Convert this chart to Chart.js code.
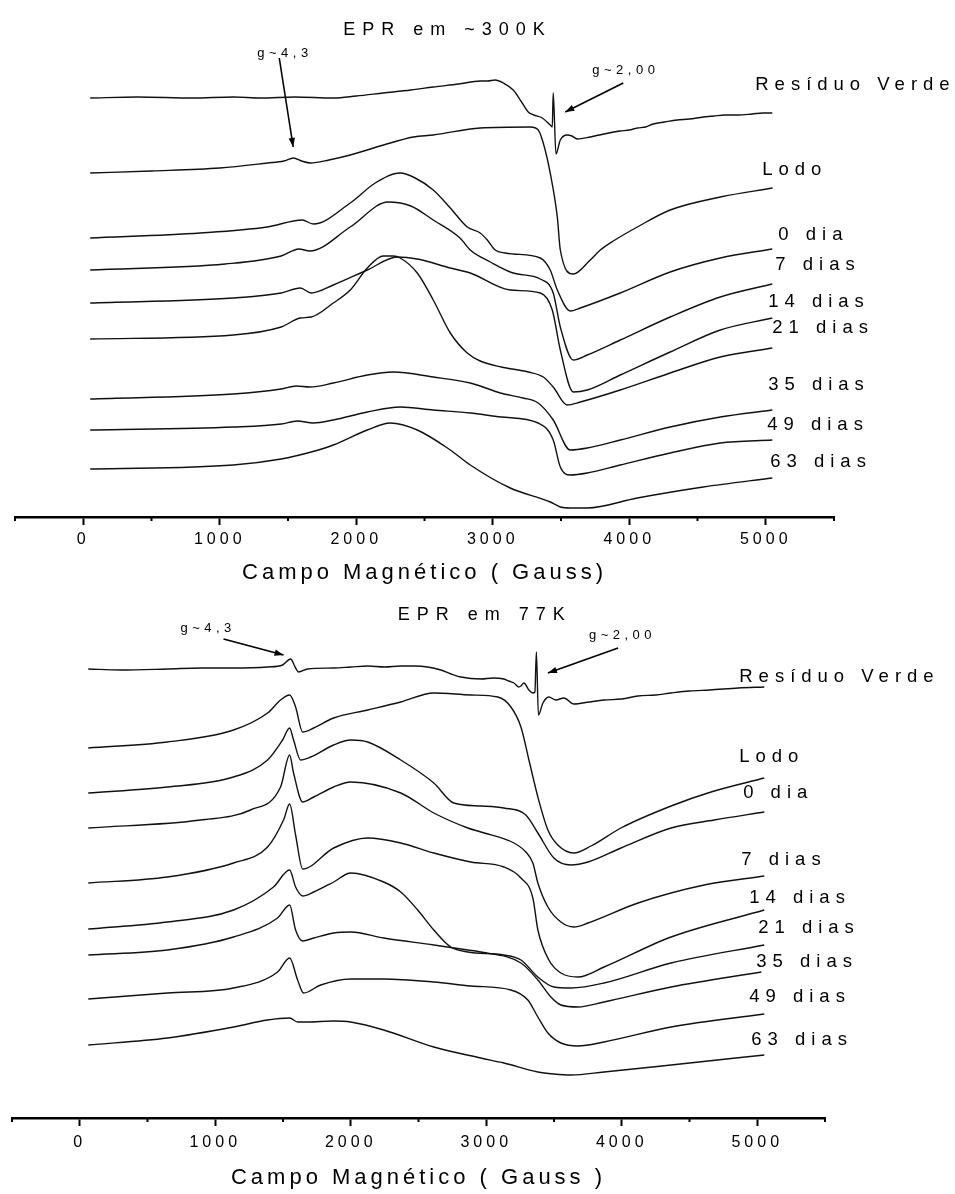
<!DOCTYPE html>
<html lang="pt">
<head>
<meta charset="utf-8">
<title>EPR – Resíduo Verde, Lodo e compostagem</title>
<script src="https://cdn.jsdelivr.net/npm/chart.js@4.4.1/dist/chart.umd.min.js"></script>
<style>
  html, body { margin: 0; padding: 0; background: #fff; }
  #wrap { position: relative; width: 955px; height: 1194px; }
  .panel { position: absolute; left: 0; width: 955px; }
  #p300 { top: 0; height: 590px; }
  #p77 { top: 590px; height: 604px; }
  canvas { display: block; }
</style>
</head>
<body>
<div id="wrap">
  <div class="panel" id="p300"><canvas id="c300" width="955" height="590"></canvas></div>
  <div class="panel" id="p77"><canvas id="c77" width="955" height="604"></canvas></div>
</div>
<script>
// Samples, same order in both panels (top spectrum first)
const sampleNames = ['Resíduo Verde', 'Lodo', '0 dia', '7 dias', '14 dias', '21 dias', '35 dias', '49 dias', '63 dias'];

// Labelled field values on the x axis (Gauss)
const fieldTicks = [0, 1000, 2000, 3000, 4000, 5000];

// ---------- EPR em ~300K : field (G) and first-derivative signal (a.u.) ----------
const field300_RV = [51, 400, 800, 1100, 1300, 1550, 1832, 2000, 2198, 2400, 2564, 2750, 2908, 2960, 3018, 3077, 3150, 3216, 3260, 3300, 3363, 3421, 3436, 3443, 3463, 3495, 3546, 3580, 3619, 3714, 3780, 3850, 3934, 4000, 4060, 4120, 4176, 4260, 4350, 4440, 4542, 4620, 4700, 4791, 4900, 4980, 5048];
const signal300_RV = [0, 1, 0, 1, 0, 1, 0, 2, 5, 8, 11, 14, 17, 17, 18, 15, 8, -5, -14, -17, -20, -27, -29, 5, -56, -42, -37, -38, -41, -39, -37, -35, -33, -32, -30, -29, -26, -24, -22, -21, -19, -18, -17, -17, -16, -15, -15];

const field300_Lodo = [51, 500, 1000, 1350, 1470, 1540, 1600, 1665, 1800, 1956, 2200, 2418, 2564, 2908, 3275, 3333, 3370, 3421, 3473, 3495, 3590, 3714, 3788, 3883, 4059, 4300, 4667, 5050];
const signal300_Lodo = [0, 2, 5, 10, 12, 15, 12, 10, 13, 18, 28, 36, 38, 45, 46, 43, 30, 0, -44, -77, -101, -87, -77, -68, -54, -37, -24, -15];

const field300_d0 = [51, 857, 1348, 1604, 1685, 1956, 2139, 2322, 2432, 2564, 2689, 2813, 2908, 2960, 3018, 3090, 3150, 3348, 3421, 3473, 3568, 3641, 3934, 4300, 4667, 5048];
const signal300_d0 = [0, 5, 11, 18, 14, 35, 55, 65, 60, 48, 30, 11, 5, -2, -12, -15, -16, -20, -32, -52, -73, -70, -55, -34, -20, -11];

const field300_d7 = [51, 1040, 1450, 1580, 1660, 1956, 2234, 2400, 2564, 2760, 2835, 2982, 3150, 3348, 3443, 3495, 3590, 3692, 3934, 4300, 4667, 5048];
const signal300_d7 = [0, 6, 14, 21, 19, 43, 68, 64, 50, 32, 20, 8, -3, -9, -23, -57, -90, -85, -70, -47, -27, -14];

const field300_d14 = [51, 1099, 1450, 1590, 1670, 1832, 2081, 2300, 2447, 2689, 2835, 3128, 3348, 3436, 3495, 3590, 3692, 3934, 4300, 4667, 5048];
const signal300_d14 = [0, 5, 10, 15, 10, 18, 33, 46, 44, 35, 30, 13, 10, -7, -47, -89, -87, -72, -49, -27, -15];

const field300_d21 = [51, 1099, 1450, 1590, 1670, 1832, 1956, 2081, 2198, 2271, 2322, 2447, 2564, 2689, 2813, 2908, 3062, 3260, 3370, 3443, 3546, 3641, 3934, 4300, 4667, 5048];
const signal300_d21 = [0, 4, 12, 21, 22, 36, 49, 71, 83, 83, 81, 66, 39, 6, -14, -22, -28, -33, -38, -48, -66, -63, -51, -34, -18, -9];

const field300_d35 = [51, 1099, 1450, 1560, 1660, 1832, 2081, 2271, 2564, 2835, 2908, 3055, 3223, 3333, 3443, 3568, 3692, 3934, 4300, 4667, 5048];
const signal300_d35 = [0, 5, 10, 13, 12, 16, 24, 27, 22, 16, 13, 6, 1, -4, -21, -51, -49, -41, -28, -18, -11];

const field300_d49 = [51, 1099, 1450, 1568, 1685, 1832, 2081, 2322, 2564, 2835, 3062, 3333, 3443, 3495, 3568, 3692, 3934, 4300, 4667, 5048];
const signal300_d49 = [0, 3, 6, 9, 7, 10, 18, 23, 20, 17, 13, 7, -10, -37, -45, -43, -35, -23, -13, -10];

const field300_d63 = [51, 1099, 1450, 1670, 1832, 2081, 2249, 2447, 2689, 2835, 3128, 3421, 3495, 3568, 3692, 4059, 4542, 5048];
const signal300_d63 = [0, 4, 10, 17, 24, 39, 46, 39, 19, 4, -19, -33, -38, -39, -39, -29, -18, -9];

// vertical stacking offset of each spectrum (a.u.)
const offset300 = [419, 344, 279, 247, 214, 178, 118, 87, 48];

// ---------- EPR em 77K ----------
const field77_RV = [63, 300, 647, 900, 1135, 1386, 1497, 1556, 1593, 1615, 1681, 1874, 2000, 2125, 2250, 2369, 2470, 2568, 2664, 2740, 2812, 2960, 3050, 3130, 3167, 3204, 3240, 3256, 3278, 3315, 3344, 3359, 3370, 3385, 3418, 3462, 3514, 3573, 3647, 3760, 3869, 4000, 4120, 4250, 4364, 4500, 4650, 4860, 5052];
const signal77_RV = [0, -1, 0, 1, 1, 2, 4, 10, 1, -3, 0, 1, 2, 3, 2, 3, 3, 2, -1, -5, -8, -10, -9, -10, -12, -14, -18, -17, -14, -21, -24, -23, 17, -46, -34, -28, -31, -29, -35, -33, -31, -30, -27, -26, -24, -22, -21, -19, -18];

const field77_Lodo = [63, 647, 1135, 1386, 1482, 1549, 1593, 1645, 1727, 1874, 2125, 2369, 2613, 2886, 3086, 3182, 3256, 3315, 3381, 3455, 3528, 3647, 3773, 3994, 4364, 4659, 5052];
const signal77_Lodo = [0, 6, 18, 35, 48, 53, 41, 16, 20, 30, 38, 46, 55, 53, 51, 41, 21, -12, -49, -82, -97, -105, -98, -80, -58, -44, -30];

const field77_d0 = [63, 647, 1135, 1386, 1497, 1549, 1578, 1630, 1704, 1874, 2000, 2125, 2369, 2613, 2760, 2960, 3130, 3292, 3381, 3499, 3625, 3751, 3994, 4364, 4682, 5052];
const signal77_d0 = [0, 6, 16, 33, 53, 65, 53, 33, 36, 48, 53, 51, 33, 10, -10, -13, -15, -22, -40, -65, -72, -69, -55, -35, -27, -19];

const field77_d7 = [63, 891, 1260, 1482, 1549, 1578, 1645, 1727, 1874, 2000, 2369, 2613, 2864, 2960, 3204, 3292, 3344, 3381, 3455, 3551, 3647, 3751, 4120, 4608, 5052];
const signal77_d7 = [0, 8, 18, 41, 73, 55, 26, 31, 41, 46, 35, 15, 0, -4, -15, -24, -35, -55, -79, -94, -99, -95, -75, -57, -48];

const field77_d14 = [63, 647, 1135, 1386, 1504, 1549, 1593, 1645, 1874, 2125, 2369, 2613, 2886, 3130, 3256, 3344, 3381, 3462, 3551, 3677, 3869, 4364, 5052];
const signal77_d14 = [0, 6, 20, 36, 63, 79, 48, 14, 35, 45, 40, 30, 21, 16, 5, -15, -47, -77, -90, -94, -84, -54, -27];

const field77_d21 = [63, 647, 1135, 1430, 1549, 1593, 1645, 1727, 1874, 2000, 2243, 2369, 2494, 2613, 2738, 2864, 3130, 3256, 3381, 3499, 3625, 3869, 4364, 5052];
const signal77_d21 = [0, 7, 19, 42, 59, 42, 33, 37, 47, 56, 47, 37, 19, -1, -18, -23, -26, -31, -48, -58, -59, -54, -34, -16];

const field77_d35 = [63, 647, 1135, 1460, 1549, 1593, 1645, 1727, 1874, 2000, 2243, 2613, 2864, 2960, 3256, 3381, 3477, 3551, 3677, 3869, 4364, 5030];
const signal77_d35 = [0, 5, 18, 37, 50, 25, 14, 17, 22, 23, 17, 10, 5, 3, -8, -25, -42, -50, -52, -47, -32, -17];

const field77_d49 = [63, 647, 1135, 1460, 1549, 1608, 1652, 1778, 2000, 2243, 2613, 2886, 3182, 3307, 3381, 3455, 3551, 3677, 3869, 4364, 5052];
const signal77_d49 = [0, 6, 11, 27, 41, 19, 6, 14, 20, 20, 17, 13, 9, -1, -18, -34, -44, -47, -43, -28, -15];

const field77_d63 = [63, 647, 1135, 1386, 1549, 1608, 1681, 1874, 2000, 2243, 2613, 2960, 3130, 3381, 3499, 3625, 3869, 4364, 5052];
const signal77_d63 = [0, 7, 18, 25, 27, 23, 23, 24, 23, 15, -2, -13, -18, -27, -29, -30, -27, -20, -10];

const offset77 = [449, 370, 325, 290, 235, 189, 163, 119, 73];

// ---------- drawing ----------
const FONT = '"Liberation Sans", Arial, Helvetica, sans-serif';

const spectra300 = [
  [field300_RV, signal300_RV], [field300_Lodo, signal300_Lodo], [field300_d0, signal300_d0],
  [field300_d7, signal300_d7], [field300_d14, signal300_d14], [field300_d21, signal300_d21],
  [field300_d35, signal300_d35], [field300_d49, signal300_d49], [field300_d63, signal300_d63]
];
const spectra77 = [
  [field77_RV, signal77_RV], [field77_Lodo, signal77_Lodo], [field77_d0, signal77_d0],
  [field77_d7, signal77_d7], [field77_d14, signal77_d14], [field77_d21, signal77_d21],
  [field77_d35, signal77_d35], [field77_d49, signal77_d49], [field77_d63, signal77_d63]
];

function makeDatasets(spectra, offsets) {
  return spectra.map(([fields, signal], i) => ({
    label: sampleNames[i],
    data: fields.map((f, k) => ({ x: f, y: offsets[i] + signal[k] })),
    borderColor: '#111',
    borderWidth: 1.4,
    pointRadius: 0,
    fill: false,
    cubicInterpolationMode: 'monotone'
  }));
}

function drawArrow(ctx, x1, y1, x2, y2) {
  ctx.beginPath();
  ctx.moveTo(x1, y1);
  ctx.lineTo(x2, y2);
  ctx.stroke();
  const a = Math.atan2(y2 - y1, x2 - x1), L = 9, W = 3.2;
  ctx.beginPath();
  ctx.moveTo(x2, y2);
  ctx.lineTo(x2 - L * Math.cos(a) + W * Math.sin(a), y2 - L * Math.sin(a) - W * Math.cos(a));
  ctx.lineTo(x2 - L * Math.cos(a) - W * Math.sin(a), y2 - L * Math.sin(a) + W * Math.cos(a));
  ctx.closePath();
  ctx.fill();
}

// Panel title, g-value notes, sample names and minor ticks, placed in data units
const eprDecor = {
  id: 'eprDecor',
  beforeDraw(chart) {
    chart.ctx.letterSpacing = '4px';
  },
  beforeDatasetsDraw(chart) {
    chart.ctx.letterSpacing = '0px';
  },
  afterDraw(chart, args, opts) {
    const { ctx } = chart;
    const xs = chart.scales.x, ys = chart.scales.y;
    const X = v => xs.getPixelForValue(v);
    const Y = v => ys.getPixelForValue(v);
    ctx.save();
    ctx.fillStyle = '#000';
    ctx.strokeStyle = '#000';

    // minor ticks every 500 G
    ctx.lineWidth = 2;
    xs.ticks.forEach(t => {
      if (fieldTicks.includes(t.value)) return;
      const px = X(t.value);
      ctx.beginPath();
      ctx.moveTo(px, xs.top);
      ctx.lineTo(px, xs.top + 4);
      ctx.stroke();
    });

    ctx.textAlign = 'left';
    ctx.textBaseline = 'middle';

    // panel title
    ctx.letterSpacing = '7px';
    ctx.font = '18px ' + FONT;
    ctx.fillText(opts.title, X(opts.titleAt[0]), Y(opts.titleAt[1]));

    // g-value notes with arrows
    ctx.letterSpacing = '4.5px';
    ctx.font = '13px ' + FONT;
    ctx.lineWidth = 1.6;
    opts.notes.forEach(n => {
      ctx.fillText(n.text, X(n.at[0]), Y(n.at[1]));
      drawArrow(ctx, X(n.from[0]), Y(n.from[1]), X(n.to[0]), Y(n.to[1]));
    });

    // sample names at the right end of each spectrum
    ctx.letterSpacing = '6px';
    ctx.font = '18.5px ' + FONT;
    sampleNames.forEach((name, i) => {
      const p = opts.namesAt[i];
      ctx.fillText(name, X(p[0]), Y(p[1]));
    });
    ctx.restore();
  }
};

function buildChart(canvasId, spectra, offsets, cfg) {
  return new Chart(document.getElementById(canvasId), {
    type: 'line',
    data: { datasets: makeDatasets(spectra, offsets) },
    plugins: [eprDecor],
    options: {
      responsive: false,
      animation: false,
      devicePixelRatio: 1,
      layout: { padding: cfg.padding },
      plugins: {
        legend: { display: false },
        tooltip: { enabled: false },
        eprDecor: cfg.decor
      },
      scales: {
        x: {
          type: 'linear',
          min: -500,
          max: 5500,
          border: { display: true, color: '#000', width: 2.5 },
          grid: {
            display: true,
            drawOnChartArea: false,
            drawTicks: true,
            tickLength: 8,
            tickWidth: 2,
            tickColor: c => (c.tick && fieldTicks.includes(c.tick.value)) ? '#000' : 'rgba(0,0,0,0)'
          },
          ticks: {
            stepSize: 500,
            autoSkip: false,
            maxRotation: 0,
            padding: cfg.tickPad,
            color: '#000',
            font: { family: FONT, size: 16 },
            callback: v => fieldTicks.includes(v) ? String(v) : ''
          },
          title: {
            display: true,
            text: cfg.axisTitle,
            color: '#000',
            font: { family: FONT, size: 22 },
            padding: { top: 0, bottom: cfg.titlePad }
          },
          afterFit: s => { s.height = cfg.axisHeight; }
        },
        y: { display: false, min: 0, max: cfg.yMax }
      }
    }
  });
}

buildChart('c300', spectra300, offset300, {
  padding: { left: 15, right: 121, top: 10, bottom: 0 },
  yMax: 507,
  axisHeight: 73,
  tickPad: 5,
  titlePad: 4,
  axisTitle: 'Campo Magnético ( Gauss)',
  decor: {
    title: 'EPR em ~300K',
    titleAt: [1905, 487],
    notes: [
      { text: 'g~4,3', at: [1275, 464], from: [1436, 459], to: [1538, 370] },
      { text: 'g~2,00', at: [3729, 447], from: [3956, 434], to: [3531, 405] }
    ],
    namesAt: [[4923, 432], [4974, 347], [5092, 282], [5070, 252], [5018, 215], [5048, 189], [5018, 132], [5011, 92], [5033, 55]]
  }
});

buildChart('c77', spectra77, offset77, {
  padding: { left: 12, right: 130, top: 10, bottom: 0 },
  yMax: 518,
  axisHeight: 76,
  tickPad: 7,
  titlePad: 3,
  axisTitle: 'Campo Magnético ( Gauss )',
  decor: {
    title: 'EPR em 77K',
    titleAt: [2347, 503],
    notes: [
      { text: 'g~4,3', at: [743, 490], from: [1061, 479], to: [1504, 463] },
      { text: 'g~2,00', at: [3758, 483], from: [3973, 470], to: [3455, 445] }
    ],
    namesAt: [[4867, 441], [4867, 361], [4896, 325], [4882, 258], [4941, 220], [5007, 190], [4993, 156], [4941, 121], [4956, 78]]
  }
});
</script>
</body>
</html>
